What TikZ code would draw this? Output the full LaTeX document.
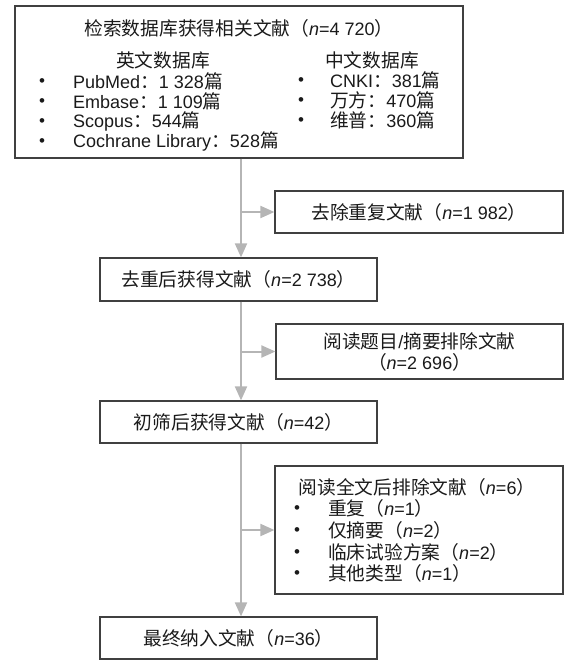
\documentclass[tikz,border=0pt]{standalone}
\usepackage{fontspec}
\setmainfont{Liberation Sans}
\newfontfamily\cjk[Scale=1.04]{Noto Sans CJK SC}
\newcommand\zh[1]{{\cjk #1}}
\newcommand\nn{\textit{n}}
\usetikzlibrary{arrows.meta}
\definecolor{boxcol}{HTML}{404040}
\definecolor{arrcol}{HTML}{B5B5B5}
\definecolor{txtcol}{HTML}{1A1A1A}
\tikzset{
  box/.style={draw=boxcol, line width=1.2pt, rectangle, inner sep=0pt, text=txtcol},
  flow/.style={draw=arrcol, line width=2pt, -{Triangle[length=14pt,width=12pt]}},
  txt/.style={inner sep=0pt, text=txtcol},
  bul/.style={inner sep=0pt, text=txtcol, font=\fontsize{17}{19}\selectfont, yshift=-2pt},
}
\begin{document}
\begin{tikzpicture}[x=1pt, y=-1pt, font=\fontsize{18}{21}\selectfont]
\useasboundingbox (0,0) rectangle (565,660);
\coordinate (m) at (241,0);
% boxes
\node[box, minimum width=448pt, minimum height=152pt] (top) at (239,82) {};
\node[box, minimum width=288pt, minimum height=42pt] (dup) at (419,212) {\zh{去除重复文献（}\nn=1 982\zh{）}};
\node[box, minimum width=277pt, minimum height=43pt] (dedup) at (238.5,279.5) {\zh{去重后获得文献（}\nn=2 738\zh{）}};
\node[box, minimum width=287pt, minimum height=55pt, align=center] (title) at (419.5,351.5) {\zh{阅读题目}/\zh{摘要排除文献}\\[0pt]\zh{（}\nn=2 696\zh{）}};
\node[box, minimum width=277pt, minimum height=42pt] (init) at (238.5,422) {\zh{初筛后获得文献（}\nn=42\zh{）}};
\node[box, minimum width=288pt, minimum height=128pt] (full) at (419,530) {};
\node[box, minimum width=277pt, minimum height=42pt] (final) at (238.5,638) {\zh{最终纳入文献（}\nn=36\zh{）}};
% top box text
\node[txt] (t0) at (239,28) {\zh{检索数据库获得相关文献（}\nn=4 720\zh{）}};
\node[txt] (en) at (163,60) {\zh{英文数据库}};
\node[txt] (cn) at (372,60) {\zh{中文数据库}};
\node[bul] (eb1) at (42,81) {•};
\node[bul] (eb2) at (42,101) {•};
\node[bul] (eb3) at (42,121) {•};
\node[bul] (eb4) at (42,141) {•};
\node[txt, anchor=west] (e1) at (73,81) {PubMed\zh{：}1 328\zh{篇}};
\node[txt, anchor=west] (e2) at (73,101) {Embase\zh{：}1 109\zh{篇}};
\node[txt, anchor=west] (e3) at (73,121) {Scopus\zh{：}544\zh{篇}};
\node[txt, anchor=west] (e4) at (73,141) {Cochrane Library\zh{：}528\zh{篇}};
\node[bul] (cb1) at (301,80) {•};
\node[bul] (cb2) at (301,100) {•};
\node[bul] (cb3) at (301,120) {•};
\node[txt, anchor=west] (c1) at (330,80) {CNKI\zh{：}381\zh{篇}};
\node[txt, anchor=west] (c2) at (330,100) {\zh{万方：}470\zh{篇}};
\node[txt, anchor=west] (c3) at (330,120) {\zh{维普：}360\zh{篇}};
% full-text box text
\node[txt] (f0) at (417,487) {\zh{阅读全文后排除文献（}\nn=6\zh{）}};
\node[bul] (fb1) at (297,508) {•};
\node[bul] (fb2) at (297,530) {•};
\node[bul] (fb3) at (297,552) {•};
\node[bul] (fb4) at (297,573) {•};
\node[txt, anchor=west] (f1) at (328,508) {\zh{重复（}\nn=1\zh{）}};
\node[txt, anchor=west] (f2) at (328,530) {\zh{仅摘要（}\nn=2\zh{）}};
\node[txt, anchor=west] (f3) at (328,552) {\zh{临床试验方案（}\nn=2\zh{）}};
\node[txt, anchor=west] (f4) at (328,573) {\zh{其他类型（}\nn=1\zh{）}};
% connectors
\draw[flow] (top.south -| m) -- (dedup.north -| m);
\draw[flow] (dup.west -| m) -- (dup.west);
\draw[flow] (dedup.south -| m) -- (init.north -| m);
\draw[flow] (title.west -| m) -- (title.west);
\draw[flow] (init.south -| m) -- (final.north -| m);
\draw[flow] (full.west -| m) -- (full.west);
\end{tikzpicture}
\end{document}
